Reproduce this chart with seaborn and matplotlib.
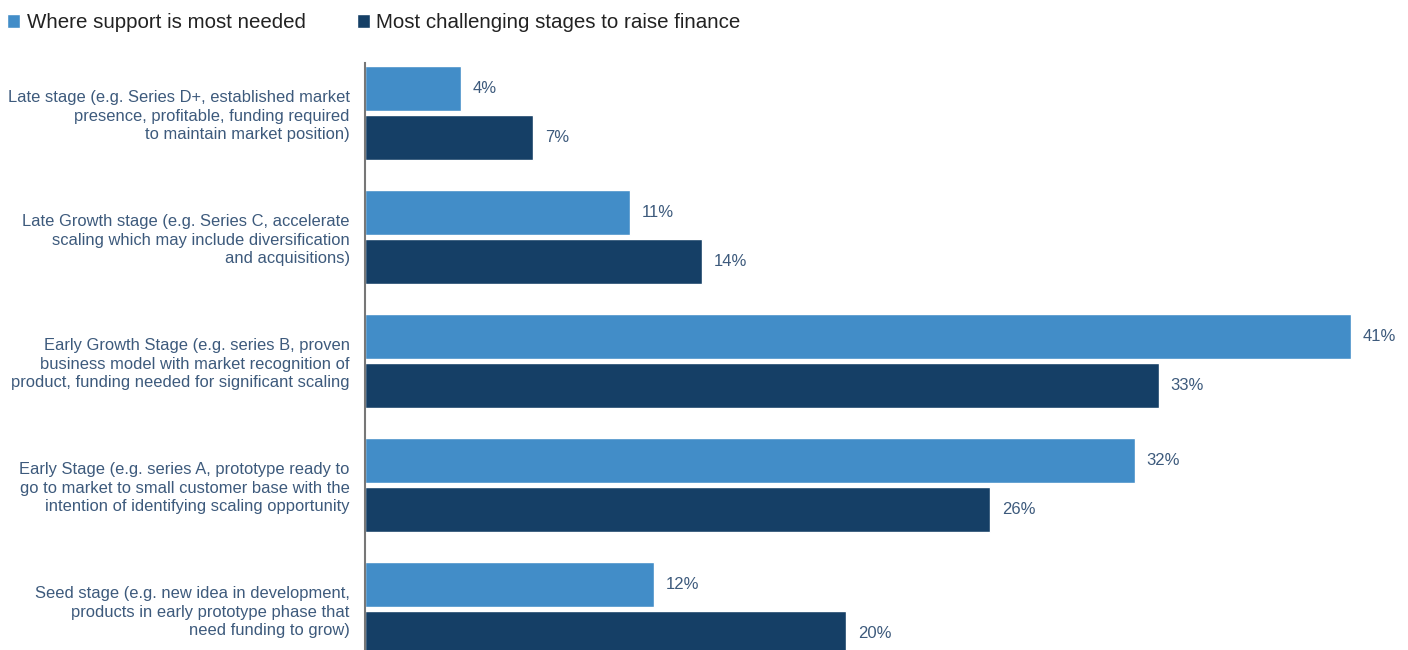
import matplotlib
matplotlib.use("Agg")
import matplotlib.pyplot as plt
import seaborn as sns
import pandas as pd

stages = [
    "Late stage (e.g. Series D+, established market\npresence, profitable, funding required\nto maintain market position)",
    "Late Growth stage (e.g. Series C, accelerate\nscaling which may include diversification\nand acquisitions)",
    "Early Growth Stage (e.g. series B, proven\nbusiness model with market recognition of\nproduct, funding needed for significant scaling",
    "Early Stage (e.g. series A, prototype ready to\ngo to market to small customer base with the\nintention of identifying scaling opportunity",
    "Seed stage (e.g. new idea in development,\nproducts in early prototype phase that\nneed funding to grow)",
]
series_names = ["Where support is most needed", "Most challenging stages to raise finance"]
support_needed = [4, 11, 41, 32, 12]
challenging = [7, 14, 33, 26, 20]

colors = ["#428dc8", "#153f66"]
label_color = "#3d5a7c"

df = pd.DataFrame({
    "stage": stages * 2,
    "series": [series_names[0]] * len(stages) + [series_names[1]] * len(stages),
    "value": support_needed + challenging,
})

sns.set_style("white")
plt.rcParams["font.family"] = ["Liberation Sans", "DejaVu Sans"]

fig = plt.figure(figsize=(14.08, 6.5), dpi=100)
left = 365 / 1408
top = 1 - 63 / 650
ax = fig.add_axes([left, 0.0, 1 - left, top])

sns.barplot(data=df, y="stage", x="value", hue="series", order=stages,
            hue_order=series_names, palette=colors, orient="h",
            width=0.79, gap=0.08, saturation=1, ax=ax, legend=True)

px_per_unit = 24.05
ax.set_xlim(0, (1408 - 365) / px_per_unit)
ax.set_ylim(4.33, -0.403)

for container in ax.containers:
    ax.bar_label(container, labels=[f"{v:.0f}%" for v in container.datavalues],
                 padding=8.5, fontsize=12, color=label_color)

for s in ["top", "right", "bottom"]:
    ax.spines[s].set_visible(False)
ax.spines["left"].set_color("#777777")
ax.spines["left"].set_linewidth(1.5)

ax.set_xticks([])
ax.set_xlabel("")
ax.set_ylabel("")
ax.tick_params(axis="y", which="major", length=0, pad=11, labelsize=11.9,
               labelcolor=label_color)
for t in ax.get_yticklabels():
    t.set_linespacing(1.3)
ax.set_yticks([-0.403], minor=True)
ax.tick_params(axis="y", which="minor", length=6, width=1.5, color="#777777")

handles, labels = ax.get_legend_handles_labels()
ax.get_legend().remove()
fig.legend(handles, labels, loc="upper left", bbox_to_anchor=(0.0, 0.99),
           ncol=2, frameon=False, fontsize=14.8, handlelength=0.65,
           handleheight=0.65, handletextpad=0.3, columnspacing=2.5,
           borderaxespad=0.0, borderpad=0.34, labelcolor="#222222")

fig.savefig("out.png", dpi=100)
